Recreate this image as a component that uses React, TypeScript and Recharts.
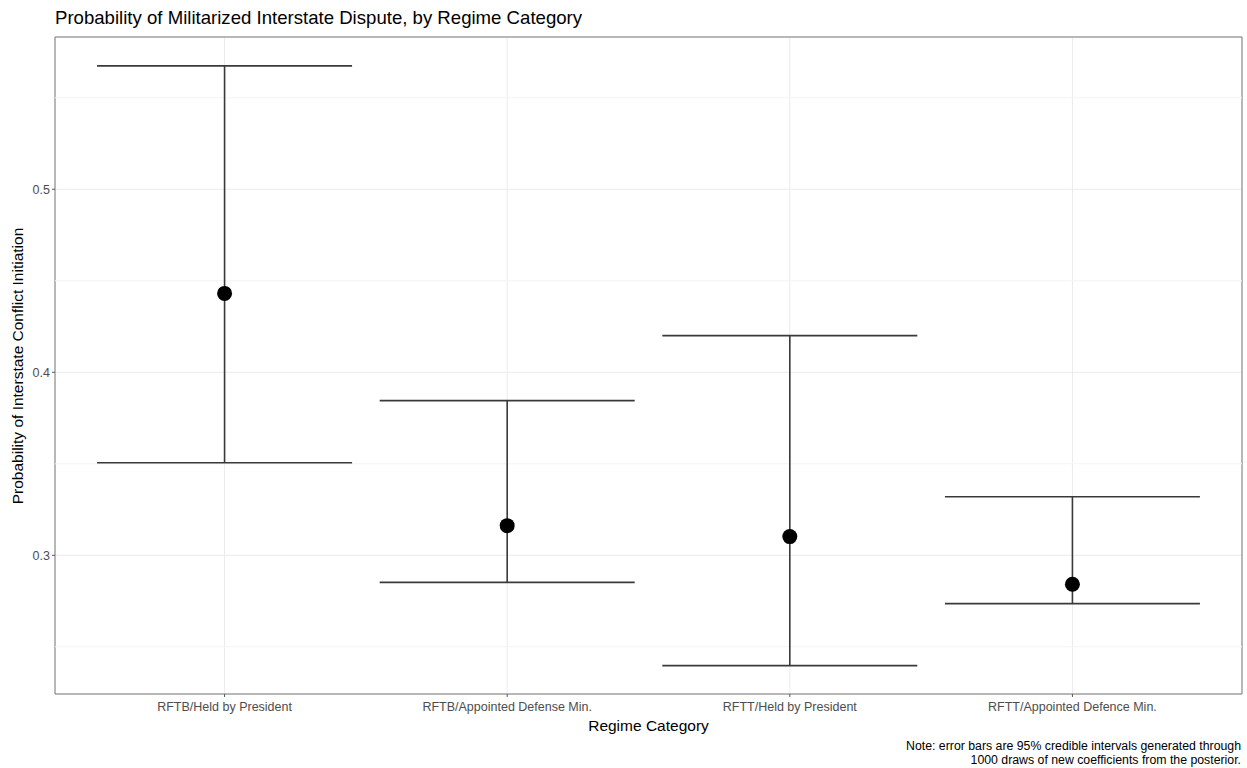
import { ComposedChart, Scatter, ErrorBar, XAxis, YAxis, CartesianGrid, ReferenceLine, ReferenceArea } from 'recharts';

const categories = [
  'RFTB/Held by President',
  'RFTB/Appointed Defense Min.',
  'RFTT/Held by President',
  'RFTT/Appointed Defence Min.',
];
const estimates = [0.4431, 0.3162, 0.3102, 0.2842];
const lowerBounds = [0.3506, 0.2852, 0.2397, 0.2736];
const upperBounds = [0.5674, 0.3845, 0.42, 0.332];
const yTicks = [0.3, 0.4, 0.5];
const yMinor = [0.25, 0.35, 0.45, 0.55];
const xTicks = [1, 2, 3, 4];

const Y_MIN = 0.2242;
const Y_MAX = 0.5832;
const X_MIN = 0.4;
const X_MAX = 4.6;

const data = categories.map((name, i) => ({
  pos: i + 1,
  name,
  estimate: estimates[i],
  err: [estimates[i] - lowerBounds[i], upperBounds[i] - estimates[i]],
}));

const font = '"Liberation Sans", Arial, Helvetica, sans-serif';

const Dot = (props: any) => <circle cx={props.cx} cy={props.cy} r={7.5} fill="#000" />;

export default function App() {
  return (
    <div style={{ position: 'absolute', left: 0, top: 0, width: 1247, height: 768, background: '#fff', fontFamily: font }}>
      <div style={{ position: 'absolute', left: 55, top: 8, fontSize: 18.6, lineHeight: '19px', color: '#000', whiteSpace: 'nowrap' }}>
        Probability of Militarized Interstate Dispute, by Regime Category
      </div>

      <ComposedChart width={1247} height={768} margin={{ top: 37, right: 5, bottom: 0, left: 0 }}>
        <CartesianGrid stroke="#ebebeb" strokeWidth={1} />
        {yMinor.map((v) => (
          <ReferenceLine key={v} y={v} stroke="#f4f4f4" strokeWidth={1} />
        ))}
        <XAxis
          type="number"
          dataKey="pos"
          domain={[X_MIN, X_MAX]}
          ticks={xTicks}
          allowDataOverflow
          height={74}
          tickFormatter={(v) => categories[v - 1]}
          tick={{ fill: '#4d4d4d', fontSize: 12.5, fontFamily: font }}
          tickSize={3}
          tickMargin={5}
          tickLine={{ stroke: '#555' }}
          axisLine={false}
        />
        <YAxis
          type="number"
          domain={[Y_MIN, Y_MAX]}
          ticks={yTicks}
          allowDataOverflow
          width={55}
          tickFormatter={(v) => v.toFixed(1)}
          tick={{ fill: '#4d4d4d', fontSize: 12.5, fontFamily: font }}
          tickSize={3}
          tickMargin={2}
          tickLine={{ stroke: '#555' }}
          axisLine={false}
        />
        <Scatter data={data} dataKey="estimate" shape={Dot} isAnimationActive={false}>
          <ErrorBar dataKey="err" direction="y" width={127.5} stroke="#3a3a3a" strokeWidth={1.6} />
        </Scatter>
        <ReferenceArea x1={X_MIN} x2={X_MAX} y1={Y_MIN} y2={Y_MAX} fill="none" stroke="#7a7a7a" strokeWidth={1} />
      </ComposedChart>

      <div
        style={{
          position: 'absolute',
          left: 18 - 200,
          top: 365.5 - 9,
          width: 400,
          textAlign: 'center',
          fontSize: 15.5,
          lineHeight: '18px',
          color: '#000',
          transform: 'rotate(-90deg)',
          whiteSpace: 'nowrap',
        }}
      >
        Probability of Interstate Conflict Initiation
      </div>
      <div style={{ position: 'absolute', left: 55, width: 1187, top: 717, textAlign: 'center', fontSize: 15.5, lineHeight: '18px', color: '#000' }}>
        Regime Category
      </div>
      <div style={{ position: 'absolute', right: 6, top: 739, textAlign: 'right', fontSize: 12.3, lineHeight: '14px', color: '#000' }}>
        Note: error bars are 95% credible intervals generated through
        <br />
        1000 draws of new coefficients from the posterior.
      </div>
    </div>
  );
}
